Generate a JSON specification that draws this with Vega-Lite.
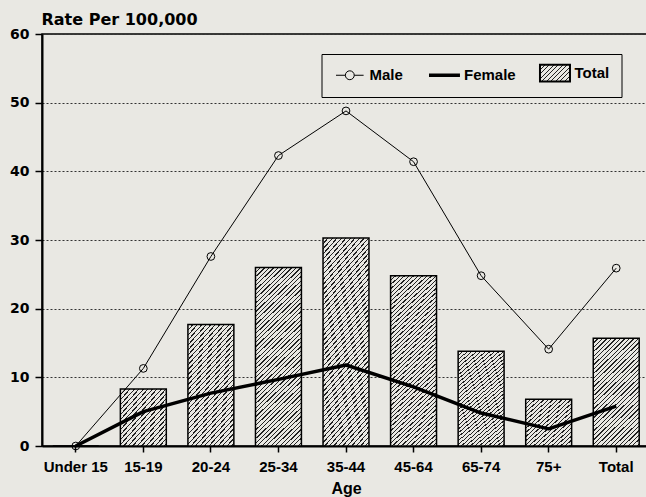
{
  "$schema": "https://vega.github.io/schema/vega-lite/v6.json",
  "width": 608,
  "height": 412,
  "autosize": {"type": "none"},
  "padding": {"left": 42, "top": 34, "right": 0, "bottom": 51},
  "background": "#e9e8e3",
  "config": {"view": {"stroke": "black", "strokeWidth": 1.5}, "font": "Liberation Sans"},
  "data": {
    "values": [
      {"age": "Under 15", "series": "Total", "value": 0},
      {"age": "15-19", "series": "Total", "value": 8.3},
      {"age": "20-24", "series": "Total", "value": 17.7},
      {"age": "25-34", "series": "Total", "value": 26.0},
      {"age": "35-44", "series": "Total", "value": 30.3},
      {"age": "45-64", "series": "Total", "value": 24.8},
      {"age": "65-74", "series": "Total", "value": 13.8},
      {"age": "75+", "series": "Total", "value": 6.8},
      {"age": "Total", "series": "Total", "value": 15.7},
      {"age": "Under 15", "series": "Male", "value": 0},
      {"age": "15-19", "series": "Male", "value": 11.3},
      {"age": "20-24", "series": "Male", "value": 27.6},
      {"age": "25-34", "series": "Male", "value": 42.3},
      {"age": "35-44", "series": "Male", "value": 48.8},
      {"age": "45-64", "series": "Male", "value": 41.4},
      {"age": "65-74", "series": "Male", "value": 24.8},
      {"age": "75+", "series": "Male", "value": 14.1},
      {"age": "Total", "series": "Male", "value": 25.9},
      {"age": "Under 15", "series": "Female", "value": 0},
      {"age": "15-19", "series": "Female", "value": 5.0},
      {"age": "20-24", "series": "Female", "value": 7.7},
      {"age": "25-34", "series": "Female", "value": 9.7},
      {"age": "35-44", "series": "Female", "value": 11.8},
      {"age": "45-64", "series": "Female", "value": 8.6},
      {"age": "65-74", "series": "Female", "value": 4.8},
      {"age": "75+", "series": "Female", "value": 2.5},
      {"age": "Total", "series": "Female", "value": 5.8}
    ]
  },
  "encoding": {
    "x": {
      "field": "age",
      "type": "nominal",
      "sort": ["Under 15", "15-19", "20-24", "25-34", "35-44", "45-64", "65-74", "75+", "Total"],
      "scale": {"paddingInner": 0.32, "paddingOuter": 0.16},
      "axis": {
        "title": "Age",
        "labelAngle": 0,
        "labelFont": "Liberation Sans",
        "labelFontSize": 15,
        "labelFontWeight": "bold",
        "labelColor": "black",
        "labelPadding": 7,
        "tickSize": 6,
        "tickWidth": 1.5,
        "tickColor": "black",
        "domainColor": "black",
        "domainWidth": 2,
        "titleFont": "Liberation Sans",
        "titleFontSize": 16,
        "titleFontWeight": "bold",
        "titleColor": "black",
        "titleY": 47,
        "titleBaseline": "alphabetic"
      }
    },
    "y": {
      "field": "value",
      "type": "quantitative",
      "scale": {"domain": [0, 60], "nice": false},
      "axis": {
        "values": [0, 10, 20, 30, 40, 50, 60],
        "title": "Rate Per 100,000",
        "titleAngle": 0,
        "titleAlign": "left",
        "titleX": -1,
        "titleY": -10,
        "titleBaseline": "alphabetic",
        "titleFont": "DejaVu Sans",
        "titleFontSize": 16,
        "titleFontWeight": "bold",
        "titleColor": "black",
        "labelFont": "DejaVu Sans",
        "labelFontSize": 14,
        "labelFontWeight": "bold",
        "labelColor": "black",
        "labelPadding": 6,
        "tickSize": 7,
        "tickWidth": 1.5,
        "tickColor": "black",
        "domainColor": "black",
        "domainWidth": 2,
        "grid": true,
        "gridColor": "#333",
        "gridDash": [2, 2],
        "gridWidth": 1
      }
    }
  },
  "layer": [
    {
      "transform": [{"filter": "datum.series === 'Total' && datum.age !== '15-19' && datum.age !== '75+' && datum.age !== '25-34' && datum.age !== '35-44' && datum.age !== '45-64'"}],
      "mark": {
        "type": "bar",
        "stroke": "black",
        "strokeWidth": 1.5,
        "fill": {
          "gradient": "linear", "x1": 0, "y1": 0, "x2": 1, "y2": 2.4,
          "stops": [
            {"offset": 0, "color": "#222"}, {"offset": 0.0042, "color": "#222"}, {"offset": 0.0042, "color": "#e9e8e3"}, {"offset": 0.0145, "color": "#e9e8e3"},
            {"offset": 0.0145, "color": "#222"}, {"offset": 0.0187, "color": "#222"}, {"offset": 0.0187, "color": "#e9e8e3"}, {"offset": 0.029, "color": "#e9e8e3"},
            {"offset": 0.029, "color": "#222"}, {"offset": 0.0332, "color": "#222"}, {"offset": 0.0332, "color": "#e9e8e3"}, {"offset": 0.0435, "color": "#e9e8e3"},
            {"offset": 0.0435, "color": "#222"}, {"offset": 0.0477, "color": "#222"}, {"offset": 0.0477, "color": "#e9e8e3"}, {"offset": 0.058, "color": "#e9e8e3"},
            {"offset": 0.058, "color": "#222"}, {"offset": 0.0622, "color": "#222"}, {"offset": 0.0622, "color": "#e9e8e3"}, {"offset": 0.0725, "color": "#e9e8e3"},
            {"offset": 0.0725, "color": "#222"}, {"offset": 0.0767, "color": "#222"}, {"offset": 0.0767, "color": "#e9e8e3"}, {"offset": 0.087, "color": "#e9e8e3"},
            {"offset": 0.087, "color": "#222"}, {"offset": 0.0912, "color": "#222"}, {"offset": 0.0912, "color": "#e9e8e3"}, {"offset": 0.1015, "color": "#e9e8e3"},
            {"offset": 0.1015, "color": "#222"}, {"offset": 0.1057, "color": "#222"}, {"offset": 0.1057, "color": "#e9e8e3"}, {"offset": 0.116, "color": "#e9e8e3"},
            {"offset": 0.116, "color": "#222"}, {"offset": 0.1202, "color": "#222"}, {"offset": 0.1202, "color": "#e9e8e3"}, {"offset": 0.1305, "color": "#e9e8e3"},
            {"offset": 0.1305, "color": "#222"}, {"offset": 0.1347, "color": "#222"}, {"offset": 0.1347, "color": "#e9e8e3"}, {"offset": 0.145, "color": "#e9e8e3"},
            {"offset": 0.145, "color": "#222"}, {"offset": 0.1492, "color": "#222"}, {"offset": 0.1492, "color": "#e9e8e3"}, {"offset": 0.1595, "color": "#e9e8e3"},
            {"offset": 0.1595, "color": "#222"}, {"offset": 0.1637, "color": "#222"}, {"offset": 0.1637, "color": "#e9e8e3"}, {"offset": 0.174, "color": "#e9e8e3"},
            {"offset": 0.174, "color": "#222"}, {"offset": 0.1782, "color": "#222"}, {"offset": 0.1782, "color": "#e9e8e3"}, {"offset": 0.1885, "color": "#e9e8e3"},
            {"offset": 0.1885, "color": "#222"}, {"offset": 0.1927, "color": "#222"}, {"offset": 0.1927, "color": "#e9e8e3"}, {"offset": 0.203, "color": "#e9e8e3"},
            {"offset": 0.203, "color": "#222"}, {"offset": 0.2072, "color": "#222"}, {"offset": 0.2072, "color": "#e9e8e3"}, {"offset": 0.2175, "color": "#e9e8e3"},
            {"offset": 0.2175, "color": "#222"}, {"offset": 0.2217, "color": "#222"}, {"offset": 0.2217, "color": "#e9e8e3"}, {"offset": 0.232, "color": "#e9e8e3"},
            {"offset": 0.232, "color": "#222"}, {"offset": 0.2362, "color": "#222"}, {"offset": 0.2362, "color": "#e9e8e3"}, {"offset": 0.2465, "color": "#e9e8e3"},
            {"offset": 0.2465, "color": "#222"}, {"offset": 0.2507, "color": "#222"}, {"offset": 0.2507, "color": "#e9e8e3"}, {"offset": 0.261, "color": "#e9e8e3"},
            {"offset": 0.261, "color": "#222"}, {"offset": 0.2652, "color": "#222"}, {"offset": 0.2652, "color": "#e9e8e3"}, {"offset": 0.2755, "color": "#e9e8e3"},
            {"offset": 0.2755, "color": "#222"}, {"offset": 0.2797, "color": "#222"}, {"offset": 0.2797, "color": "#e9e8e3"}, {"offset": 0.29, "color": "#e9e8e3"},
            {"offset": 0.29, "color": "#222"}, {"offset": 0.2942, "color": "#222"}, {"offset": 0.2942, "color": "#e9e8e3"}, {"offset": 0.3045, "color": "#e9e8e3"},
            {"offset": 0.3045, "color": "#222"}, {"offset": 0.3087, "color": "#222"}, {"offset": 0.3087, "color": "#e9e8e3"}, {"offset": 0.319, "color": "#e9e8e3"},
            {"offset": 0.319, "color": "#222"}, {"offset": 0.3232, "color": "#222"}, {"offset": 0.3232, "color": "#e9e8e3"}, {"offset": 0.3335, "color": "#e9e8e3"},
            {"offset": 0.3335, "color": "#222"}, {"offset": 0.3377, "color": "#222"}, {"offset": 0.3377, "color": "#e9e8e3"}, {"offset": 0.348, "color": "#e9e8e3"},
            {"offset": 0.348, "color": "#222"}, {"offset": 0.3522, "color": "#222"}, {"offset": 0.3522, "color": "#e9e8e3"}, {"offset": 0.3625, "color": "#e9e8e3"},
            {"offset": 0.3625, "color": "#222"}, {"offset": 0.3667, "color": "#222"}, {"offset": 0.3667, "color": "#e9e8e3"}, {"offset": 0.377, "color": "#e9e8e3"},
            {"offset": 0.377, "color": "#222"}, {"offset": 0.3812, "color": "#222"}, {"offset": 0.3812, "color": "#e9e8e3"}, {"offset": 0.3915, "color": "#e9e8e3"},
            {"offset": 0.3915, "color": "#222"}, {"offset": 0.3957, "color": "#222"}, {"offset": 0.3957, "color": "#e9e8e3"}, {"offset": 0.406, "color": "#e9e8e3"},
            {"offset": 0.406, "color": "#222"}, {"offset": 0.4102, "color": "#222"}, {"offset": 0.4102, "color": "#e9e8e3"}, {"offset": 0.4205, "color": "#e9e8e3"},
            {"offset": 0.4205, "color": "#222"}, {"offset": 0.4247, "color": "#222"}, {"offset": 0.4247, "color": "#e9e8e3"}, {"offset": 0.435, "color": "#e9e8e3"},
            {"offset": 0.435, "color": "#222"}, {"offset": 0.4392, "color": "#222"}, {"offset": 0.4392, "color": "#e9e8e3"}, {"offset": 0.4495, "color": "#e9e8e3"},
            {"offset": 0.4495, "color": "#222"}, {"offset": 0.4537, "color": "#222"}, {"offset": 0.4537, "color": "#e9e8e3"}, {"offset": 0.464, "color": "#e9e8e3"},
            {"offset": 0.464, "color": "#222"}, {"offset": 0.4682, "color": "#222"}, {"offset": 0.4682, "color": "#e9e8e3"}, {"offset": 0.4785, "color": "#e9e8e3"},
            {"offset": 0.4785, "color": "#222"}, {"offset": 0.4827, "color": "#222"}, {"offset": 0.4827, "color": "#e9e8e3"}, {"offset": 0.493, "color": "#e9e8e3"},
            {"offset": 0.493, "color": "#222"}, {"offset": 0.4972, "color": "#222"}, {"offset": 0.4972, "color": "#e9e8e3"}, {"offset": 0.5075, "color": "#e9e8e3"},
            {"offset": 0.5075, "color": "#222"}, {"offset": 0.5117, "color": "#222"}, {"offset": 0.5117, "color": "#e9e8e3"}, {"offset": 1, "color": "#e9e8e3"}
          ]
        }
      }
    },
    {
      "transform": [{"filter": "datum.series === 'Total' && (datum.age === '15-19' || datum.age === '75+')"}],
      "mark": {
        "type": "bar",
        "stroke": "black",
        "strokeWidth": 1.5,
        "fill": {
          "gradient": "linear", "x1": 0, "y1": 0, "x2": 1, "y2": 1.12,
          "stops": [
            {"offset": 0, "color": "#222"}, {"offset": 0.0126, "color": "#222"}, {"offset": 0.0126, "color": "#e9e8e3"}, {"offset": 0.0435, "color": "#e9e8e3"},
            {"offset": 0.0435, "color": "#222"}, {"offset": 0.0561, "color": "#222"}, {"offset": 0.0561, "color": "#e9e8e3"}, {"offset": 0.087, "color": "#e9e8e3"},
            {"offset": 0.087, "color": "#222"}, {"offset": 0.0996, "color": "#222"}, {"offset": 0.0996, "color": "#e9e8e3"}, {"offset": 0.1305, "color": "#e9e8e3"},
            {"offset": 0.1305, "color": "#222"}, {"offset": 0.1431, "color": "#222"}, {"offset": 0.1431, "color": "#e9e8e3"}, {"offset": 0.174, "color": "#e9e8e3"},
            {"offset": 0.174, "color": "#222"}, {"offset": 0.1866, "color": "#222"}, {"offset": 0.1866, "color": "#e9e8e3"}, {"offset": 0.2175, "color": "#e9e8e3"},
            {"offset": 0.2175, "color": "#222"}, {"offset": 0.2301, "color": "#222"}, {"offset": 0.2301, "color": "#e9e8e3"}, {"offset": 0.261, "color": "#e9e8e3"},
            {"offset": 0.261, "color": "#222"}, {"offset": 0.2736, "color": "#222"}, {"offset": 0.2736, "color": "#e9e8e3"}, {"offset": 0.3045, "color": "#e9e8e3"},
            {"offset": 0.3045, "color": "#222"}, {"offset": 0.3171, "color": "#222"}, {"offset": 0.3171, "color": "#e9e8e3"}, {"offset": 0.348, "color": "#e9e8e3"},
            {"offset": 0.348, "color": "#222"}, {"offset": 0.3606, "color": "#222"}, {"offset": 0.3606, "color": "#e9e8e3"}, {"offset": 0.3915, "color": "#e9e8e3"},
            {"offset": 0.3915, "color": "#222"}, {"offset": 0.4041, "color": "#222"}, {"offset": 0.4041, "color": "#e9e8e3"}, {"offset": 0.435, "color": "#e9e8e3"},
            {"offset": 0.435, "color": "#222"}, {"offset": 0.4476, "color": "#222"}, {"offset": 0.4476, "color": "#e9e8e3"}, {"offset": 0.4785, "color": "#e9e8e3"},
            {"offset": 0.4785, "color": "#222"}, {"offset": 0.4911, "color": "#222"}, {"offset": 0.4911, "color": "#e9e8e3"}, {"offset": 0.522, "color": "#e9e8e3"},
            {"offset": 0.522, "color": "#222"}, {"offset": 0.5346, "color": "#222"}, {"offset": 0.5346, "color": "#e9e8e3"}, {"offset": 0.5655, "color": "#e9e8e3"},
            {"offset": 0.5655, "color": "#222"}, {"offset": 0.5781, "color": "#222"}, {"offset": 0.5781, "color": "#e9e8e3"}, {"offset": 0.609, "color": "#e9e8e3"},
            {"offset": 0.609, "color": "#222"}, {"offset": 0.6216, "color": "#222"}, {"offset": 0.6216, "color": "#e9e8e3"}, {"offset": 0.6525, "color": "#e9e8e3"},
            {"offset": 0.6525, "color": "#222"}, {"offset": 0.6651, "color": "#222"}, {"offset": 0.6651, "color": "#e9e8e3"}, {"offset": 0.696, "color": "#e9e8e3"},
            {"offset": 0.696, "color": "#222"}, {"offset": 0.7086, "color": "#222"}, {"offset": 0.7086, "color": "#e9e8e3"}, {"offset": 0.7395, "color": "#e9e8e3"},
            {"offset": 0.7395, "color": "#222"}, {"offset": 0.7521, "color": "#222"}, {"offset": 0.7521, "color": "#e9e8e3"}, {"offset": 0.783, "color": "#e9e8e3"},
            {"offset": 0.783, "color": "#222"}, {"offset": 0.7956, "color": "#222"}, {"offset": 0.7956, "color": "#e9e8e3"}, {"offset": 0.8265, "color": "#e9e8e3"},
            {"offset": 0.8265, "color": "#222"}, {"offset": 0.8391, "color": "#222"}, {"offset": 0.8391, "color": "#e9e8e3"}, {"offset": 0.87, "color": "#e9e8e3"},
            {"offset": 0.87, "color": "#222"}, {"offset": 0.8826, "color": "#222"}, {"offset": 0.8826, "color": "#e9e8e3"}, {"offset": 0.9135, "color": "#e9e8e3"},
            {"offset": 0.9135, "color": "#222"}, {"offset": 0.9261, "color": "#222"}, {"offset": 0.9261, "color": "#e9e8e3"}, {"offset": 0.957, "color": "#e9e8e3"},
            {"offset": 0.957, "color": "#222"}, {"offset": 0.9696, "color": "#222"}, {"offset": 0.9696, "color": "#e9e8e3"}, {"offset": 1, "color": "#e9e8e3"}
          ]
        }
      }
    },
    {
      "transform": [{"filter": "datum.series === 'Total' && (datum.age === '25-34' || datum.age === '35-44' || datum.age === '45-64')"}],
      "mark": {
        "type": "bar",
        "stroke": "black",
        "strokeWidth": 1.5,
        "fill": {
          "gradient": "linear", "x1": 0, "y1": 0, "x2": 1, "y2": 4.0,
          "stops": [
            {"offset": 0, "color": "#222"}, {"offset": 0.00167, "color": "#222"}, {"offset": 0.00167, "color": "#e9e8e3"}, {"offset": 0.00577, "color": "#e9e8e3"},
            {"offset": 0.00577, "color": "#222"}, {"offset": 0.00744, "color": "#222"}, {"offset": 0.00744, "color": "#e9e8e3"}, {"offset": 0.01154, "color": "#e9e8e3"},
            {"offset": 0.01154, "color": "#222"}, {"offset": 0.01321, "color": "#222"}, {"offset": 0.01321, "color": "#e9e8e3"}, {"offset": 0.01731, "color": "#e9e8e3"},
            {"offset": 0.01731, "color": "#222"}, {"offset": 0.01898, "color": "#222"}, {"offset": 0.01898, "color": "#e9e8e3"}, {"offset": 0.02308, "color": "#e9e8e3"},
            {"offset": 0.02308, "color": "#222"}, {"offset": 0.02475, "color": "#222"}, {"offset": 0.02475, "color": "#e9e8e3"}, {"offset": 0.02885, "color": "#e9e8e3"},
            {"offset": 0.02885, "color": "#222"}, {"offset": 0.03052, "color": "#222"}, {"offset": 0.03052, "color": "#e9e8e3"}, {"offset": 0.03462, "color": "#e9e8e3"},
            {"offset": 0.03462, "color": "#222"}, {"offset": 0.03629, "color": "#222"}, {"offset": 0.03629, "color": "#e9e8e3"}, {"offset": 0.04039, "color": "#e9e8e3"},
            {"offset": 0.04039, "color": "#222"}, {"offset": 0.04206, "color": "#222"}, {"offset": 0.04206, "color": "#e9e8e3"}, {"offset": 0.04616, "color": "#e9e8e3"},
            {"offset": 0.04616, "color": "#222"}, {"offset": 0.04783, "color": "#222"}, {"offset": 0.04783, "color": "#e9e8e3"}, {"offset": 0.05193, "color": "#e9e8e3"},
            {"offset": 0.05193, "color": "#222"}, {"offset": 0.0536, "color": "#222"}, {"offset": 0.0536, "color": "#e9e8e3"}, {"offset": 0.0577, "color": "#e9e8e3"},
            {"offset": 0.0577, "color": "#222"}, {"offset": 0.05937, "color": "#222"}, {"offset": 0.05937, "color": "#e9e8e3"}, {"offset": 0.06347, "color": "#e9e8e3"},
            {"offset": 0.06347, "color": "#222"}, {"offset": 0.06514, "color": "#222"}, {"offset": 0.06514, "color": "#e9e8e3"}, {"offset": 0.06924, "color": "#e9e8e3"},
            {"offset": 0.06924, "color": "#222"}, {"offset": 0.07091, "color": "#222"}, {"offset": 0.07091, "color": "#e9e8e3"}, {"offset": 0.07501, "color": "#e9e8e3"},
            {"offset": 0.07501, "color": "#222"}, {"offset": 0.07668, "color": "#222"}, {"offset": 0.07668, "color": "#e9e8e3"}, {"offset": 0.08078, "color": "#e9e8e3"},
            {"offset": 0.08078, "color": "#222"}, {"offset": 0.08245, "color": "#222"}, {"offset": 0.08245, "color": "#e9e8e3"}, {"offset": 0.08655, "color": "#e9e8e3"},
            {"offset": 0.08655, "color": "#222"}, {"offset": 0.08822, "color": "#222"}, {"offset": 0.08822, "color": "#e9e8e3"}, {"offset": 0.09232, "color": "#e9e8e3"},
            {"offset": 0.09232, "color": "#222"}, {"offset": 0.09399, "color": "#222"}, {"offset": 0.09399, "color": "#e9e8e3"}, {"offset": 0.09809, "color": "#e9e8e3"},
            {"offset": 0.09809, "color": "#222"}, {"offset": 0.09976, "color": "#222"}, {"offset": 0.09976, "color": "#e9e8e3"}, {"offset": 0.10386, "color": "#e9e8e3"},
            {"offset": 0.10386, "color": "#222"}, {"offset": 0.10553, "color": "#222"}, {"offset": 0.10553, "color": "#e9e8e3"}, {"offset": 0.10963, "color": "#e9e8e3"},
            {"offset": 0.10963, "color": "#222"}, {"offset": 0.1113, "color": "#222"}, {"offset": 0.1113, "color": "#e9e8e3"}, {"offset": 0.1154, "color": "#e9e8e3"},
            {"offset": 0.1154, "color": "#222"}, {"offset": 0.11707, "color": "#222"}, {"offset": 0.11707, "color": "#e9e8e3"}, {"offset": 0.12117, "color": "#e9e8e3"},
            {"offset": 0.12117, "color": "#222"}, {"offset": 0.12284, "color": "#222"}, {"offset": 0.12284, "color": "#e9e8e3"}, {"offset": 0.12694, "color": "#e9e8e3"},
            {"offset": 0.12694, "color": "#222"}, {"offset": 0.12861, "color": "#222"}, {"offset": 0.12861, "color": "#e9e8e3"}, {"offset": 0.13271, "color": "#e9e8e3"},
            {"offset": 0.13271, "color": "#222"}, {"offset": 0.13438, "color": "#222"}, {"offset": 0.13438, "color": "#e9e8e3"}, {"offset": 0.13848, "color": "#e9e8e3"},
            {"offset": 0.13848, "color": "#222"}, {"offset": 0.14015, "color": "#222"}, {"offset": 0.14015, "color": "#e9e8e3"}, {"offset": 0.14425, "color": "#e9e8e3"},
            {"offset": 0.14425, "color": "#222"}, {"offset": 0.14592, "color": "#222"}, {"offset": 0.14592, "color": "#e9e8e3"}, {"offset": 0.15002, "color": "#e9e8e3"},
            {"offset": 0.15002, "color": "#222"}, {"offset": 0.15169, "color": "#222"}, {"offset": 0.15169, "color": "#e9e8e3"}, {"offset": 0.15579, "color": "#e9e8e3"},
            {"offset": 0.15579, "color": "#222"}, {"offset": 0.15746, "color": "#222"}, {"offset": 0.15746, "color": "#e9e8e3"}, {"offset": 0.16156, "color": "#e9e8e3"},
            {"offset": 0.16156, "color": "#222"}, {"offset": 0.16323, "color": "#222"}, {"offset": 0.16323, "color": "#e9e8e3"}, {"offset": 0.16733, "color": "#e9e8e3"},
            {"offset": 0.16733, "color": "#222"}, {"offset": 0.169, "color": "#222"}, {"offset": 0.169, "color": "#e9e8e3"}, {"offset": 0.1731, "color": "#e9e8e3"},
            {"offset": 0.1731, "color": "#222"}, {"offset": 0.17477, "color": "#222"}, {"offset": 0.17477, "color": "#e9e8e3"}, {"offset": 0.17887, "color": "#e9e8e3"},
            {"offset": 0.17887, "color": "#222"}, {"offset": 0.18054, "color": "#222"}, {"offset": 0.18054, "color": "#e9e8e3"}, {"offset": 0.18464, "color": "#e9e8e3"},
            {"offset": 0.18464, "color": "#222"}, {"offset": 0.18631, "color": "#222"}, {"offset": 0.18631, "color": "#e9e8e3"}, {"offset": 0.19041, "color": "#e9e8e3"},
            {"offset": 0.19041, "color": "#222"}, {"offset": 0.19208, "color": "#222"}, {"offset": 0.19208, "color": "#e9e8e3"}, {"offset": 0.19618, "color": "#e9e8e3"},
            {"offset": 0.19618, "color": "#222"}, {"offset": 0.19785, "color": "#222"}, {"offset": 0.19785, "color": "#e9e8e3"}, {"offset": 0.20195, "color": "#e9e8e3"},
            {"offset": 0.20195, "color": "#222"}, {"offset": 0.20362, "color": "#222"}, {"offset": 0.20362, "color": "#e9e8e3"}, {"offset": 0.20772, "color": "#e9e8e3"},
            {"offset": 0.20772, "color": "#222"}, {"offset": 0.20939, "color": "#222"}, {"offset": 0.20939, "color": "#e9e8e3"}, {"offset": 0.21349, "color": "#e9e8e3"},
            {"offset": 0.21349, "color": "#222"}, {"offset": 0.21516, "color": "#222"}, {"offset": 0.21516, "color": "#e9e8e3"}, {"offset": 0.21926, "color": "#e9e8e3"},
            {"offset": 0.21926, "color": "#222"}, {"offset": 0.22093, "color": "#222"}, {"offset": 0.22093, "color": "#e9e8e3"}, {"offset": 0.22503, "color": "#e9e8e3"},
            {"offset": 0.22503, "color": "#222"}, {"offset": 0.2267, "color": "#222"}, {"offset": 0.2267, "color": "#e9e8e3"}, {"offset": 0.2308, "color": "#e9e8e3"},
            {"offset": 0.2308, "color": "#222"}, {"offset": 0.23247, "color": "#222"}, {"offset": 0.23247, "color": "#e9e8e3"}, {"offset": 0.23657, "color": "#e9e8e3"},
            {"offset": 0.23657, "color": "#222"}, {"offset": 0.23824, "color": "#222"}, {"offset": 0.23824, "color": "#e9e8e3"}, {"offset": 0.24234, "color": "#e9e8e3"},
            {"offset": 0.24234, "color": "#222"}, {"offset": 0.24401, "color": "#222"}, {"offset": 0.24401, "color": "#e9e8e3"}, {"offset": 0.24811, "color": "#e9e8e3"},
            {"offset": 0.24811, "color": "#222"}, {"offset": 0.24978, "color": "#222"}, {"offset": 0.24978, "color": "#e9e8e3"}, {"offset": 0.25388, "color": "#e9e8e3"},
            {"offset": 0.25388, "color": "#222"}, {"offset": 0.25555, "color": "#222"}, {"offset": 0.25555, "color": "#e9e8e3"}, {"offset": 0.25965, "color": "#e9e8e3"},
            {"offset": 0.25965, "color": "#222"}, {"offset": 0.26132, "color": "#222"}, {"offset": 0.26132, "color": "#e9e8e3"}, {"offset": 0.26542, "color": "#e9e8e3"},
            {"offset": 0.26542, "color": "#222"}, {"offset": 0.26709, "color": "#222"}, {"offset": 0.26709, "color": "#e9e8e3"}, {"offset": 0.27119, "color": "#e9e8e3"},
            {"offset": 0.27119, "color": "#222"}, {"offset": 0.27286, "color": "#222"}, {"offset": 0.27286, "color": "#e9e8e3"}, {"offset": 0.27696, "color": "#e9e8e3"},
            {"offset": 0.27696, "color": "#222"}, {"offset": 0.27863, "color": "#222"}, {"offset": 0.27863, "color": "#e9e8e3"}, {"offset": 0.28273, "color": "#e9e8e3"},
            {"offset": 0.28273, "color": "#222"}, {"offset": 0.2844, "color": "#222"}, {"offset": 0.2844, "color": "#e9e8e3"}, {"offset": 0.2885, "color": "#e9e8e3"},
            {"offset": 0.2885, "color": "#222"}, {"offset": 0.29017, "color": "#222"}, {"offset": 0.29017, "color": "#e9e8e3"}, {"offset": 0.29427, "color": "#e9e8e3"},
            {"offset": 0.29427, "color": "#222"}, {"offset": 0.29594, "color": "#222"}, {"offset": 0.29594, "color": "#e9e8e3"}, {"offset": 1, "color": "#e9e8e3"}
          ]
        }
      }
    },
    {
      "transform": [{"filter": "datum.series === 'Female'"}],
      "mark": {"type": "line", "strokeWidth": 3.5, "strokeJoin": "round"},
      "encoding": {
        "color": {
          "field": "series",
          "type": "nominal",
          "scale": {"domain": ["Male", "Female", "Total"], "range": ["black", "black", "black"]},
          "legend": {
            "title": null,
            "orient": "none",
            "legendX": 279.5,
            "legendY": 20,
            "direction": "horizontal",
            "padding": 11.5,
            "strokeColor": "black",
            "fillColor": "#e9e8e3",
            "symbolSize": 576,
            "labelOffset": 21.5,
            "columnPadding": 18.5,
            "labelFont": "Liberation Sans",
            "labelFontSize": 15,
            "labelFontWeight": "bold",
            "labelColor": "black",
            "encode": {
              "symbols": {
                "update": {
                  "shape": {"signal": "datum.value === 'Male' ? 'M-0.375,0H0.405M1.145,0H1.925M1.145,0A0.37,0.37,0,1,1,0.405,0A0.37,0.37,0,1,1,1.145,0' : datum.value === 'Female' ? 'M-0.5,0H2.08' : 'M-0.46,-0.7H2.04V0.7H-0.46Z'"},
                  "strokeWidth": {"signal": "datum.value === 'Male' ? 1 : datum.value === 'Female' ? 3.5 : 2"},
                  "stroke": {"value": "black"},
                  "opacity": {"value": 1},
                  "fill": {"signal": "datum.value === 'Total' ? {gradient: 'linear', x1: 0, y1: 0, x2: 1.19, y2: 0.667, stops: [{offset: 0, color: '#222'}, {offset: 0.028, color: '#222'}, {offset: 0.028, color: '#e9e8e3'}, {offset: 0.096, color: '#e9e8e3'}, {offset: 0.096, color: '#222'}, {offset: 0.124, color: '#222'}, {offset: 0.124, color: '#e9e8e3'}, {offset: 0.192, color: '#e9e8e3'}, {offset: 0.192, color: '#222'}, {offset: 0.22, color: '#222'}, {offset: 0.22, color: '#e9e8e3'}, {offset: 0.288, color: '#e9e8e3'}, {offset: 0.288, color: '#222'}, {offset: 0.316, color: '#222'}, {offset: 0.316, color: '#e9e8e3'}, {offset: 0.384, color: '#e9e8e3'}, {offset: 0.384, color: '#222'}, {offset: 0.412, color: '#222'}, {offset: 0.412, color: '#e9e8e3'}, {offset: 0.48, color: '#e9e8e3'}, {offset: 0.48, color: '#222'}, {offset: 0.508, color: '#222'}, {offset: 0.508, color: '#e9e8e3'}, {offset: 0.576, color: '#e9e8e3'}, {offset: 0.576, color: '#222'}, {offset: 0.604, color: '#222'}, {offset: 0.604, color: '#e9e8e3'}, {offset: 0.672, color: '#e9e8e3'}, {offset: 0.672, color: '#222'}, {offset: 0.7, color: '#222'}, {offset: 0.7, color: '#e9e8e3'}, {offset: 0.768, color: '#e9e8e3'}, {offset: 0.768, color: '#222'}, {offset: 0.796, color: '#222'}, {offset: 0.796, color: '#e9e8e3'}, {offset: 0.864, color: '#e9e8e3'}, {offset: 0.864, color: '#222'}, {offset: 0.892, color: '#222'}, {offset: 0.892, color: '#e9e8e3'}, {offset: 0.96, color: '#e9e8e3'}, {offset: 0.96, color: '#222'}, {offset: 0.988, color: '#222'}, {offset: 0.988, color: '#e9e8e3'}, {offset: 1, color: '#e9e8e3'}]} : datum.value === 'Male' ? '#e9e8e3' : 'transparent'"}
                }
              }
            }
          }
        }
      }
    },
    {
      "transform": [{"filter": "datum.series === 'Male'"}],
      "mark": {
        "type": "line",
        "strokeWidth": 1,
        "point": {"filled": false, "size": 60, "strokeWidth": 1}
      },
      "encoding": {
        "color": {"field": "series", "type": "nominal"}
      }
    }
  ]
}
